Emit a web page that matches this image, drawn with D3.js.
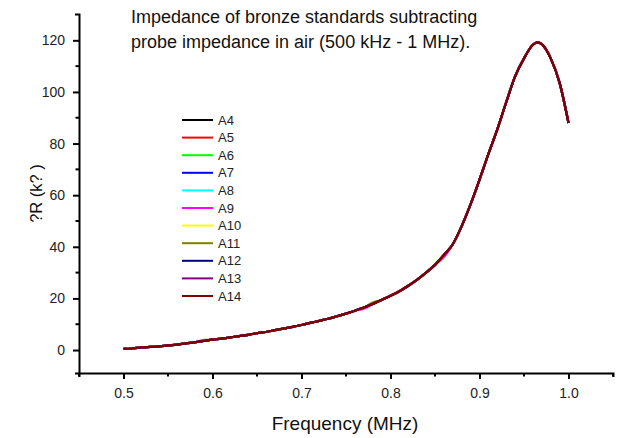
<!DOCTYPE html>
<html>
<head>
<meta charset="utf-8">
<script src="https://cdn.jsdelivr.net/npm/d3@7"></script>
<style>
  html, body { margin: 0; padding: 0; background: #fff; }
  svg { display: block; font-family: "Liberation Sans", Arial, sans-serif; }
</style>
</head>
<body>
<svg id="chart" width="622" height="438"></svg>
<script>
// Frequency sweep (MHz) shared by all standards
const freq = [0.50, 0.51, 0.52, 0.53, 0.54, 0.55, 0.56, 0.57, 0.58, 0.59,
              0.60, 0.61, 0.62, 0.63, 0.64, 0.65, 0.66, 0.67, 0.68, 0.69,
              0.70, 0.71, 0.72, 0.73, 0.74, 0.75, 0.76, 0.77, 0.78, 0.79,
              0.80, 0.81, 0.82, 0.83, 0.84, 0.85, 0.86, 0.87, 0.88, 0.89,
              0.90, 0.91, 0.92, 0.93, 0.94, 0.95, 0.96, 0.965, 0.97, 0.98,
              0.99, 1.00];

// Common resistance change (kOhm) measured on the standards
const deltaR = [0.5, 0.6, 1.0, 1.2, 1.4, 1.8, 2.1, 2.6, 3.0, 3.5,
                4.0, 4.4, 4.9, 5.4, 5.9, 6.5, 7.0, 7.7, 8.3, 9.0,
                9.7, 10.5, 11.3, 12.1, 13.1, 14.1, 15.2, 16.5, 17.8, 19.4,
                21.0, 22.8, 24.9, 27.3, 30.0, 33.0, 36.8, 41.0, 48.0, 56.5,
                66.0, 76.0, 85.5, 96.0, 106.0, 113.0, 118.3, 119.2, 118.5, 113.0,
                103.5, 88.0];

// Standards where a reading departs slightly from the common curve: [freq, deltaR]
const offsetsA9  = [[0.77, 16.0], [0.86, 36.0]];
const offsetsA11 = [[0.59, 3.9], [0.78, 18.4]];

const seriesNames  = ["A4", "A5", "A6", "A7", "A8", "A9", "A10", "A11", "A12", "A13", "A14"];
const seriesColors = ["#000000", "#ff0000", "#00ff00", "#0000ff", "#00ffff", "#ff00ff",
                      "#ffff00", "#808000", "#000080", "#800080", "#800000"];

const xTicks = [0.5, 0.6, 0.7, 0.8, 0.9, 1.0];
const yTicks = [0, 20, 40, 60, 80, 100, 120];

const titleLines = ["Impedance of bronze standards subtracting",
                    "probe impedance in air (500 kHz - 1 MHz)."];

function seriesValues(name) {
  const vals = deltaR.slice();
  const off = name === "A9" ? offsetsA9 : name === "A11" ? offsetsA11 : [];
  off.forEach(([f, v]) => { const i = freq.indexOf(f); if (i >= 0) vals[i] = v; });
  return freq.map((f, i) => ({ f, v: vals[i] }));
}

const svg = d3.select("#chart");
const margin = { left: 79, right: 9, top: 14, bottom: 65 };
const W = 622, H = 438;

const x = d3.scaleLinear().domain([0.45, 1.05]).range([margin.left, W - margin.right]);
const y = d3.scaleLinear().domain([-8.9, 130.2]).range([H - margin.bottom, margin.top]);

// Minor ticks
const xMinor = d3.range(0.45, 1.051, 0.05).filter(v => !xTicks.some(t => Math.abs(t - v) < 1e-6));
const yMinor = d3.range(10, 130, 20);

const gx = svg.append("g").attr("transform", `translate(0,${H - margin.bottom})`);
gx.call(d3.axisBottom(x).tickValues(xTicks).tickFormat(d3.format(".1f")).tickSize(6).tickSizeOuter(4).tickPadding(9));
gx.selectAll(".minor").data(xMinor).enter().append("line")
  .attr("x1", d => x(d)).attr("x2", d => x(d)).attr("y1", 0).attr("y2", 3.5)
  .attr("stroke", "#000").attr("stroke-width", 2);

const gy = svg.append("g").attr("transform", `translate(${margin.left},0)`);
gy.call(d3.axisLeft(y).tickValues(yTicks).tickSize(6).tickSizeOuter(4).tickPadding(8));
gy.selectAll(".minor").data(yMinor).enter().append("line")
  .attr("x1", 0).attr("x2", -3.5).attr("y1", d => y(d)).attr("y2", d => y(d))
  .attr("stroke", "#000").attr("stroke-width", 2);

[gx, gy].forEach(g => {
  g.select(".domain").attr("stroke-width", 2);
  g.selectAll(".tick line").attr("stroke-width", 2);
  g.selectAll(".tick text").attr("font-size", 14).attr("fill", "#222")
    .attr("font-family", "'Liberation Sans', Arial, sans-serif");
});

// Curves
const line = d3.line().x(d => x(d.f)).y(d => y(d.v)).curve(d3.curveMonotoneX);
seriesNames.forEach((name, i) => {
  svg.append("path").datum(seriesValues(name))
    .attr("d", line).attr("fill", "none")
    .attr("stroke", seriesColors[i]).attr("stroke-width", 2.2);
});

// Legend
const leg = svg.append("g");
seriesNames.forEach((name, i) => {
  const ly = 120 + i * 17.6;
  leg.append("line").attr("x1", 182).attr("x2", 213).attr("y1", ly).attr("y2", ly)
    .attr("stroke", seriesColors[i]).attr("stroke-width", 2);
  leg.append("text").attr("x", 218).attr("y", ly + 4.5).attr("font-size", 13)
    .attr("fill", "#222").text(name);
});

// Title
titleLines.forEach((t, i) => {
  svg.append("text").attr("x", 131).attr("y", 23 + i * 24.5).attr("font-size", 18)
    .attr("fill", "#111").text(t);
});

// Axis titles
svg.append("text").attr("x", 345).attr("y", 430).attr("text-anchor", "middle")
  .attr("font-size", 19).attr("fill", "#111").text("Frequency (MHz)");
svg.append("text").attr("transform", `translate(42,${(margin.top + H - margin.bottom) / 2}) rotate(-90)`)
  .attr("text-anchor", "middle").attr("font-size", 16.5).attr("fill", "#111").text("?R (k? )");
</script>
</body>
</html>
